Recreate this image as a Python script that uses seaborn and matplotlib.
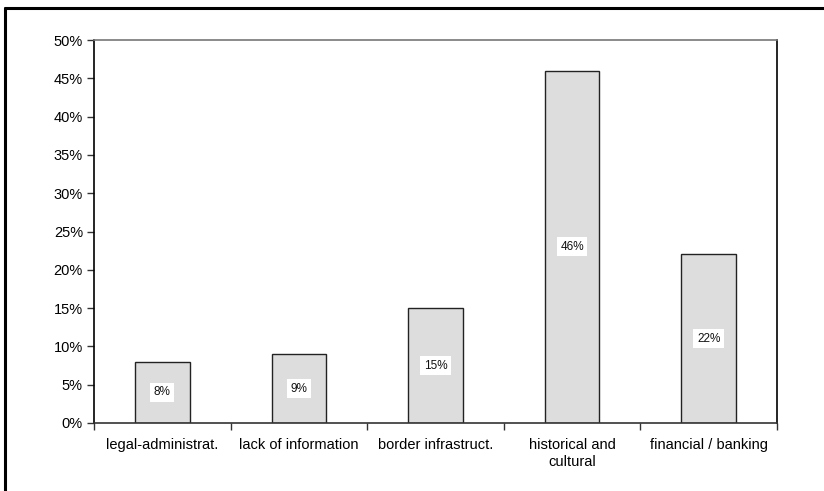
import matplotlib
matplotlib.use("Agg")
import matplotlib.pyplot as plt
import seaborn as sns
import pandas as pd
from matplotlib.lines import Line2D
from matplotlib.ticker import FuncFormatter, MultipleLocator, FixedLocator

categories = ["legal-administrat.", "lack of information", "border infrastruct.",
              "historical and\ncultural", "financial / banking"]
shares = [8, 9, 15, 46, 22]
value_labels = ["8%", "9%", "15%", "46%", "22%"]

sns.set_theme(style="white")
plt.rcParams["font.family"] = ["Liberation Sans", "DejaVu Sans"]

df = pd.DataFrame({"category": categories, "share": shares})

fig = plt.figure(figsize=(8.24, 4.91), dpi=100)
ax = fig.add_axes([94 / 824, 1 - 423 / 491, (777 - 94) / 824, (423 - 40) / 491])

sns.barplot(data=df, x="category", y="share", ax=ax, color="#DDDDDD",
            saturation=1, width=0.4, edgecolor="#222222", linewidth=1.0)

ax.set_xlim(-0.5, len(categories) - 0.5)
ax.set_ylim(0, 50)
ax.yaxis.set_major_locator(MultipleLocator(5))
ax.yaxis.set_major_formatter(FuncFormatter(lambda v, _: f"{v:.0f}%"))
ax.set_xlabel("")
ax.set_ylabel("")

# category labels without ticks; boundary ticks as minor ticks
ax.tick_params(axis="x", which="major", length=0, pad=11, labelsize=10.5, labelcolor="black")
for lbl in ax.get_xticklabels():
    lbl.set_linespacing(1.25)
ax.xaxis.set_minor_locator(FixedLocator([i - 0.5 for i in range(len(categories) + 1)]))
ax.tick_params(axis="x", which="minor", bottom=True, length=5, width=1, color="#333333", direction="out")
ax.tick_params(axis="y", left=True, length=5, width=1, color="#333333", direction="out",
               labelsize=10.5, labelcolor="black", pad=3)

for container in ax.containers:
    ax.bar_label(container, labels=value_labels, label_type="center", fontsize=8.5,
                 color="#111111",
                 bbox=dict(boxstyle="square,pad=0.3", facecolor="white", edgecolor="none"))

for side in ["left", "right", "bottom", "top"]:
    ax.spines[side].set_visible(True)
ax.spines["left"].set_color("black")
ax.spines["right"].set_color("black")
ax.spines["bottom"].set_color("#333333")
ax.spines["top"].set_color("#777777")
for side in ax.spines:
    ax.spines[side].set_linewidth(1.2)

# outer frame along top and left edges
fig.add_artist(Line2D([4.5 / 824, 1], [1 - 7.5 / 491, 1 - 7.5 / 491], color="black",
                      linewidth=2.2, transform=fig.transFigure))
fig.add_artist(Line2D([4.5 / 824, 4.5 / 824], [0, 1 - 7.5 / 491], color="black",
                      linewidth=2.2, transform=fig.transFigure))

fig.savefig("out.png", dpi=100, facecolor="white")
